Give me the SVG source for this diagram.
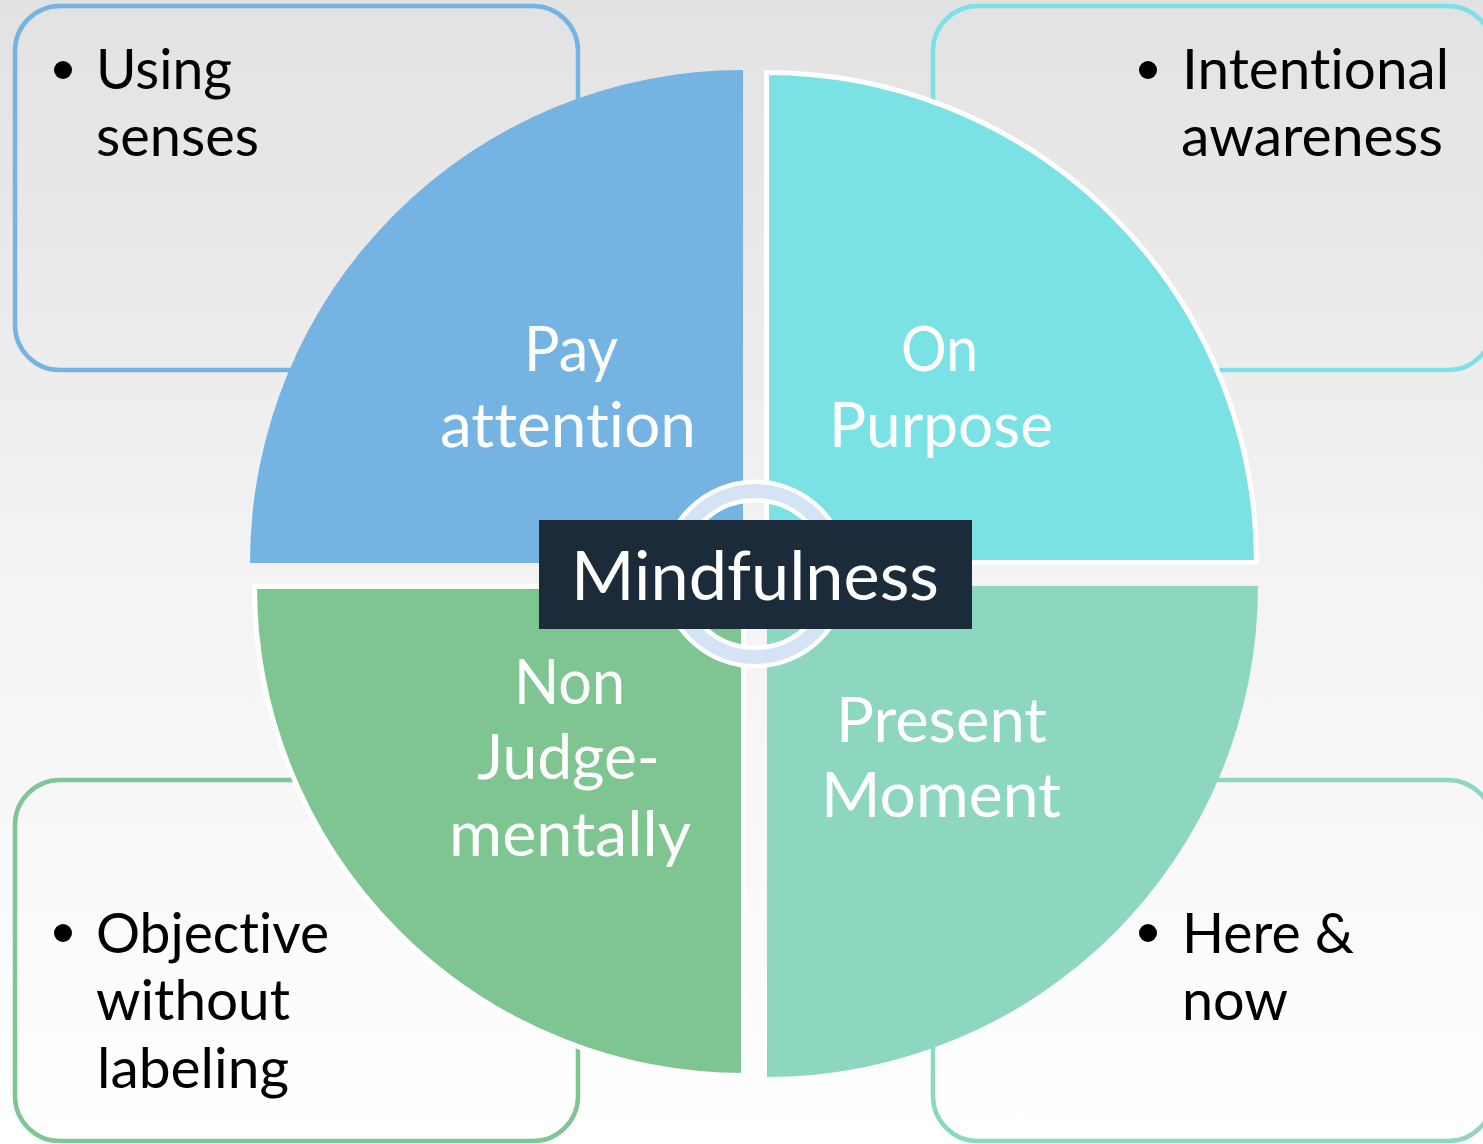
<svg xmlns="http://www.w3.org/2000/svg" width="1483" height="1144" viewBox="0 0 1483 1144">
  <defs>
    <linearGradient id="bg" x1="0" y1="0" x2="0" y2="1">
      <stop offset="0" stop-color="#e2e2e2"/>
      <stop offset="0.5" stop-color="#f3f3f3"/>
      <stop offset="1" stop-color="#ffffff"/>
    </linearGradient>
    <style>
      .box { fill: none; stroke-width: 4.5; }
      text { font-variant-ligatures: none; font-feature-settings: "liga" 0, "clig" 0, "dlig" 0; }
      .btxt { font-family: Lato, "Liberation Sans", sans-serif; font-size: 57px; fill: #000000; }
      .wtxt { font-family: Lato, "Liberation Sans", sans-serif; font-size: 61px; fill: #ffffff; }
      .title { font-family: Lato, "Liberation Sans", sans-serif; font-size: 67px; fill: #ffffff; }
      .dot { fill: #000000; }
    </style>
  </defs>
  <rect x="0" y="0" width="1483" height="1144" fill="url(#bg)"/>

  <g id="box-using-senses">
    <rect class="box" x="15" y="6" width="563" height="364" rx="45" stroke="#74b3e2"/>
    <circle class="dot" cx="63" cy="70" r="9"/>
    <text class="btxt" x="96" y="89" textLength="136" lengthAdjust="spacingAndGlyphs">Using</text>
    <text class="btxt" x="96" y="156" textLength="163" lengthAdjust="spacingAndGlyphs">senses</text>
  </g>
  <g id="box-intentional-awareness">
    <rect class="box" x="933" y="6" width="560" height="364" rx="45" stroke="#7de0e6"/>
    <circle class="dot" cx="1148" cy="70" r="9"/>
    <text class="btxt" x="1182" y="89" textLength="267" lengthAdjust="spacingAndGlyphs">Intentional</text>
    <text class="btxt" x="1181" y="156" textLength="262" lengthAdjust="spacingAndGlyphs">awareness</text>
  </g>
  <g id="box-objective">
    <rect class="box" x="15" y="780" width="563" height="361" rx="45" stroke="#80c595"/>
    <circle class="dot" cx="63" cy="933" r="9"/>
    <text class="btxt" x="96" y="953" textLength="233" lengthAdjust="spacingAndGlyphs">Objective</text>
    <text class="btxt" x="96" y="1020" textLength="194" lengthAdjust="spacingAndGlyphs">without</text>
    <text class="btxt" x="97" y="1088" textLength="192" lengthAdjust="spacingAndGlyphs">labeling</text>
  </g>
  <g id="box-here-now">
    <rect class="box" x="933" y="780" width="560" height="361" rx="45" stroke="#8ed6c0"/>
    <circle class="dot" cx="1148" cy="933" r="9"/>
    <text class="btxt" x="1182" y="953" textLength="172" lengthAdjust="spacingAndGlyphs">Here &amp;</text>
    <text class="btxt" x="1182" y="1020" textLength="106" lengthAdjust="spacingAndGlyphs">now</text>
  </g>

  <g id="sector-pay-attention">
    <path d="M743,563 L250,563 A493,493 0 0 1 743,70 Z" fill="#74b3e2"/>
    <text class="wtxt" x="524" y="371" textLength="94" lengthAdjust="spacingAndGlyphs">Pay</text>
    <text class="wtxt" x="440" y="447" textLength="256" lengthAdjust="spacingAndGlyphs">attention</text>
  </g>
  <g id="sector-on-purpose">
    <path d="M766.5,562.5 L766.5,72.5 A490,490 0 0 1 1256.5,562.5 Z" fill="#7ae1e5" stroke="#ffffff" stroke-width="5"/>
    <text class="wtxt" x="901" y="371" textLength="77" lengthAdjust="spacingAndGlyphs">On</text>
    <text class="wtxt" x="829" y="447" textLength="224" lengthAdjust="spacingAndGlyphs">Purpose</text>
  </g>
  <g id="sector-non-judgementally">
    <path d="M743.5,586.5 L743.5,1075.5 A489,489 0 0 1 254.5,586.5 Z" fill="#7fc592" stroke="#ffffff" stroke-width="5"/>
    <text class="wtxt" x="514" y="704" textLength="111" lengthAdjust="spacingAndGlyphs">Non</text>
    <text class="wtxt" x="477" y="779" textLength="183" lengthAdjust="spacingAndGlyphs">Judge-</text>
    <text class="wtxt" x="449" y="856" textLength="242" lengthAdjust="spacingAndGlyphs">mentally</text>
  </g>
  <g id="sector-present-moment">
    <path d="M767,586 L1258,586 A491,491 0 0 1 767,1077 Z" fill="#8dd6c0"/>
    <text class="wtxt" x="836" y="742" textLength="211" lengthAdjust="spacingAndGlyphs">Present</text>
    <text class="wtxt" x="821" y="817" textLength="240" lengthAdjust="spacingAndGlyphs">Moment</text>
  </g>

  <g id="center-ring">
    <circle cx="755" cy="574" r="83" fill="none" stroke="#ffffff" stroke-width="23"/>
    <circle cx="755" cy="574" r="83" fill="none" stroke="#d5e4f5" stroke-width="14"/>
  </g>
  <g id="center-mindfulness">
    <rect x="539" y="520" width="433" height="109" fill="#1b2b3a"/>
    <text class="title" x="571" y="600" textLength="368" lengthAdjust="spacingAndGlyphs">Mindfulness</text>
  </g>
  <g id="connectors"/>
</svg>
